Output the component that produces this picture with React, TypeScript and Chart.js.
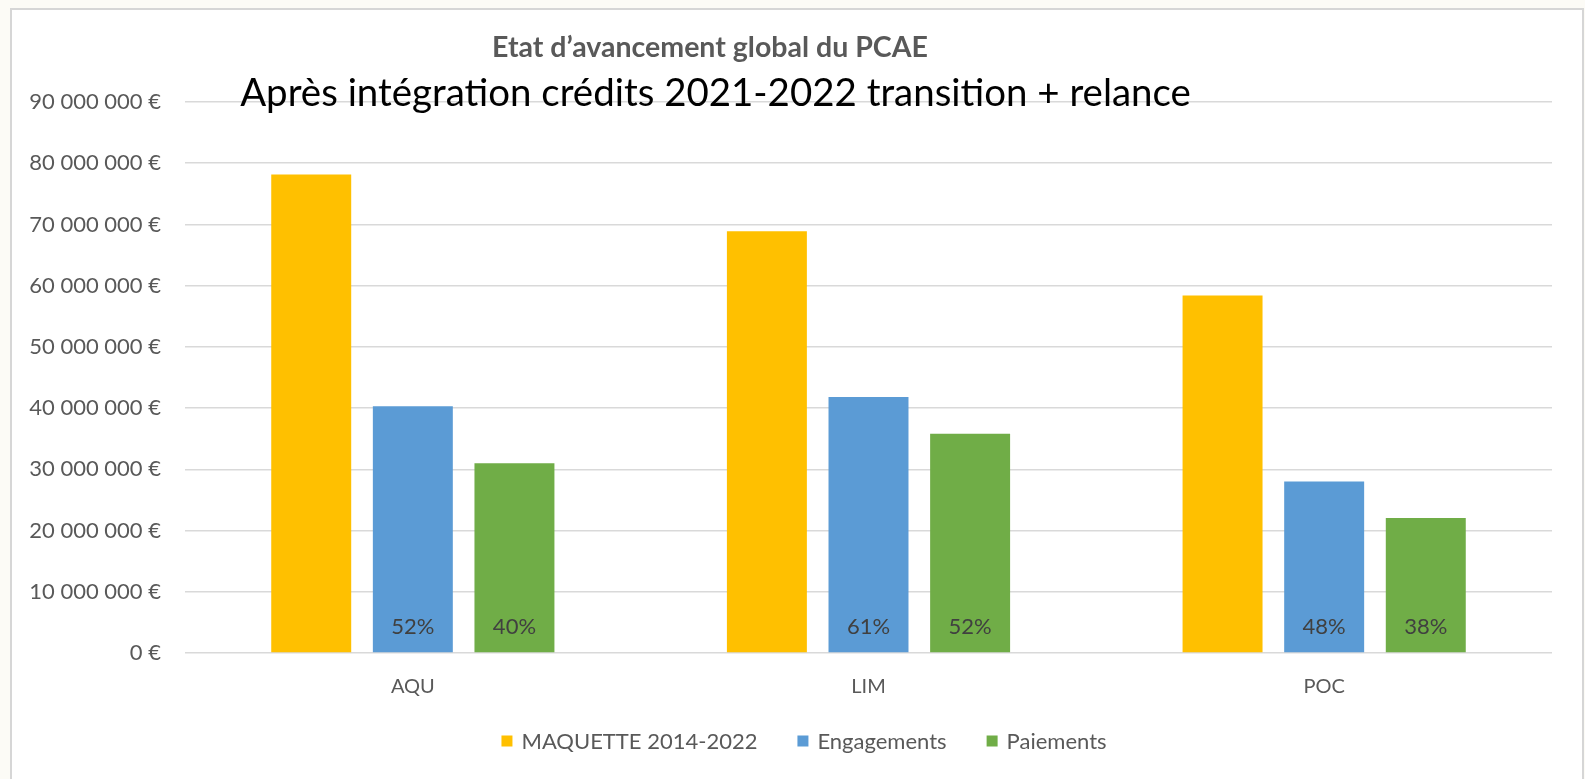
import React, { useEffect, useRef } from "react";
import { Chart, registerables } from "chart.js";

Chart.register(...registerables);

// ---- data ----
const categories = ["AQU", "LIM", "POC"];
const maquette = [78150000, 68900000, 58400000];
const engagements = [40300000, 41800000, 28000000];
const paiements = [31000000, 35800000, 22050000];
const engagementPct = ["52%", "61%", "48%"];
const paiementPct = ["40%", "52%", "38%"];
const seriesNames = ["MAQUETTE 2014-2022", "Engagements", "Paiements"];
const seriesColors = ["#FFC000", "#5B9BD5", "#70AD47"];
const yMin = 0;
const yMax = 90000000;
const yStep = 10000000;
const titleText = "Etat d\u2019avancement global du PCAE";
const subtitleText = "Apr\u00e8s int\u00e9gration cr\u00e9dits 2021-2022 transition + relance";

const fmtEuro = (v: number) =>
  String(Math.round(v)).replace(/\B(?=(\d{3})+(?!\d))/g, " ") + " \u20ac";

const FONT = "Lato";

const overlayPlugin = {
  id: "overlay",
  afterDatasetsDraw(chart: any) {
    const ctx = chart.ctx as CanvasRenderingContext2D;
    const y0 = chart.scales.y.getPixelForValue(0);
    ctx.save();
    ctx.font = `22px ${FONT}`;
    ctx.fillStyle = "#404040";
    ctx.textAlign = "center";
    ctx.textBaseline = "middle";
    const sets: [number, string[]][] = [
      [1, engagementPct],
      [2, paiementPct],
    ];
    sets.forEach(([di, arr]) => {
      chart.getDatasetMeta(di).data.forEach((bar: any, i: number) => {
        ctx.fillText(arr[i], bar.x, y0 - 26);
      });
    });
    ctx.restore();
  },
  afterDraw(chart: any) {
    const ctx = chart.ctx as CanvasRenderingContext2D;
    ctx.save();
    ctx.textAlign = "center";
    ctx.textBaseline = "middle";
    // title (bold, grey) fitted to width
    ctx.font = `bold 26px ${FONT}`;
    let w = ctx.measureText(titleText).width;
    let size = (26 * 436) / w;
    ctx.font = `bold ${size}px ${FONT}`;
    ctx.fillStyle = "#595959";
    ctx.fillText(titleText, 710, 48);
    // subtitle (black)
    ctx.font = `34px ${FONT}`;
    w = ctx.measureText(subtitleText).width;
    size = (34 * 951) / w;
    ctx.font = `${size}px ${FONT}`;
    ctx.fillStyle = "#000000";
    ctx.fillText(subtitleText, 715.5, 94);

    // legend
    ctx.font = `22px ${FONT}`;
    ctx.textAlign = "left";
    const box = 11;
    const gapBox = 9;
    const gapItem = 40;
    const datasets = chart.data.datasets;
    const widths = datasets.map(
      (d: any) => box + gapBox + ctx.measureText(d.label).width
    );
    const total =
      widths.reduce((a: number, b: number) => a + b, 0) +
      gapItem * (datasets.length - 1);
    let x = 804 - total / 2;
    const ly = 741;
    datasets.forEach((d: any, i: number) => {
      ctx.fillStyle = d.backgroundColor;
      ctx.fillRect(x, ly - box / 2, box, box);
      ctx.fillStyle = "#595959";
      ctx.fillText(d.label, x + box + gapBox, ly + 1);
      x += widths[i] + gapItem;
    });
    ctx.restore();
  },
};

export default function App() {
  const ref = useRef<HTMLCanvasElement | null>(null);

  useEffect(() => {
    const canvas = ref.current;
    if (!canvas) return;
    const chart = new Chart(canvas, {
      type: "bar",
      data: {
        labels: categories,
        datasets: [
          { label: seriesNames[0], data: maquette, backgroundColor: seriesColors[0] },
          { label: seriesNames[1], data: engagements, backgroundColor: seriesColors[1] },
          { label: seriesNames[2], data: paiements, backgroundColor: seriesColors[2] },
        ],
      },
      options: {
        animation: false,
        responsive: false,
        devicePixelRatio: 1,
        categoryPercentage: 0.669,
        barPercentage: 0.787,
        layout: { padding: { left: 0, right: 33, top: 102, bottom: 70 } },
        plugins: {
          legend: { display: false },
          title: { display: false },
          tooltip: { enabled: false },
        },
        scales: {
          x: {
            grid: { display: false, drawTicks: false },
            border: { display: false },
            ticks: {
              color: "#595959",
              font: { family: FONT, size: 20 },
              padding: 22,
            },
            afterFit: (s: any) => {
              s.height = 56;
            },
          },
          y: {
            min: yMin,
            max: yMax,
            grid: { color: "#d9d9d9", lineWidth: 1.5, drawTicks: false },
            border: { display: false },
            ticks: {
              stepSize: yStep,
              color: "#595959",
              font: { family: FONT, size: 22 },
              padding: 24,
              callback: (v: any) => fmtEuro(Number(v)),
            },
            afterFit: (s: any) => {
              s.width = 185;
            },
          },
        },
      },
      plugins: [overlayPlugin],
    });
    return () => chart.destroy();
  }, []);

  return (
    <div
      style={{
        position: "fixed",
        left: 0,
        top: 0,
        width: 1585,
        height: 779,
        background: "#fcfbf6",
        overflow: "hidden",
      }}
    >
      <div
        style={{
          position: "absolute",
          left: 10,
          top: 8,
          width: 1570,
          height: 800,
          border: "2px solid #d6d6d6",
          background: "#ffffff",
        }}
      />
      <canvas
        ref={ref}
        width={1585}
        height={779}
        style={{ position: "absolute", left: 0, top: 0, display: "block" }}
      />
    </div>
  );
}
